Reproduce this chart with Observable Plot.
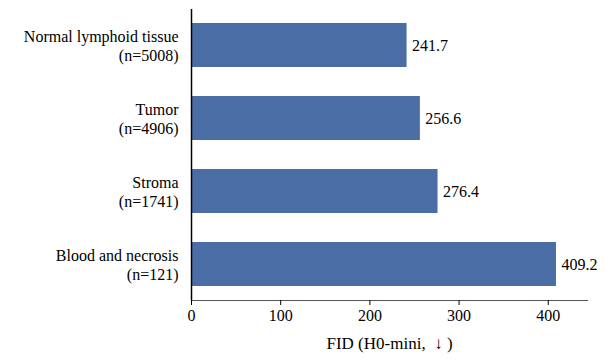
<!DOCTYPE html>
<html>
<head>
<meta charset="utf-8">
<script src="https://cdn.jsdelivr.net/npm/d3@7"></script>
<script src="https://cdn.jsdelivr.net/npm/@observablehq/plot@0.6"></script>
<style>
  html, body { margin: 0; padding: 0; background: #fff; }
  #chart svg { display: block; }
</style>
</head>
<body>
<div id="chart"></div>
<script>
const categories = ["Normal lymphoid tissue", "Tumor", "Stroma", "Blood and necrosis"];
const counts = [5008, 4906, 1741, 121];
const fidValues = [241.7, 256.6, 276.4, 409.2];
const xTicks = [0, 100, 200, 300, 400];
const xLabel = "FID (H0-mini,  \u2193 )";

const data = categories.map((c, i) => ({
  label: `${c}\n(n=${counts[i]})`,
  value: fidValues[i]
}));

const font = "Liberation Serif";

const chart = Plot.plot({
  width: 605,
  height: 360,
  marginTop: 9,
  marginBottom: 60,
  marginLeft: 191,
  marginRight: 18,
  style: { fontFamily: font, fontSize: "16px" },
  x: { domain: [0, 444], nice: false },
  y: { domain: data.map(d => d.label), paddingInner: 0.4, paddingOuter: 0.19 },
  marks: [
    Plot.barX(data, { x: "value", y: "label", fill: "#4a6da6" }),
    Plot.text(data, {
      x: "value", y: "label", text: d => d.value.toFixed(1),
      textAnchor: "start", dx: 5, fontSize: 16
    }),
    Plot.ruleX([0], { stroke: "#000", strokeWidth: 1.5 }),
    Plot.frame({ anchor: "bottom", stroke: "#555", strokeWidth: 1.2 }),
    Plot.axisY({ tickSize: 0, tickPadding: 13, fontSize: 16, label: null, lineHeight: 1.2 }),
    Plot.axisX({ ticks: xTicks, tickSize: 5, tickPadding: 4, fontSize: 16, label: null }),
    Plot.text([xLabel], {
      text: d => d, frameAnchor: "bottom", dy: 36, lineAnchor: "top", fontSize: 17
    })
  ]
});

chart.setAttribute("font-family", font);
document.getElementById("chart").appendChild(chart);
</script>
</body>
</html>
